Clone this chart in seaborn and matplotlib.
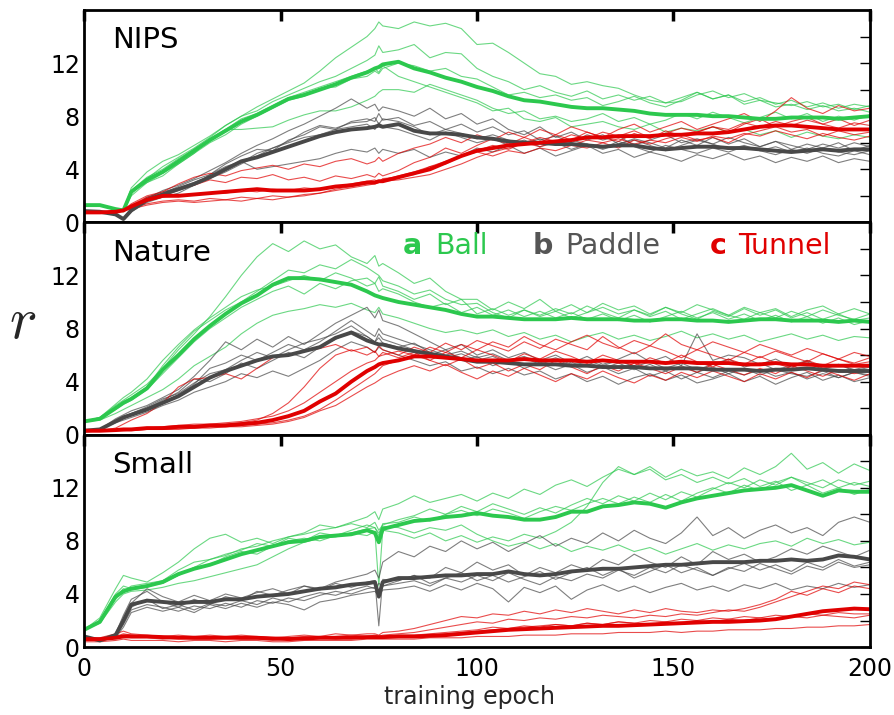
import matplotlib
matplotlib.use("Agg")
import matplotlib.pyplot as plt
from matplotlib.ticker import FixedLocator
import seaborn as sns
import pandas as pd

# ---------------------------------------------------------------- data
epochs = [0, 4, 8, 10, 12,
          16, 20, 24, 28, 32, 36, 40, 44, 48, 52, 56, 60, 64, 68, 72,
          74, 75, 76,
          80, 84, 88, 92, 96, 100, 104, 108, 112, 116, 120, 124, 128, 132, 136,
          140, 144, 148, 152, 156, 160, 164, 168, 172, 176, 180, 184, 188, 192, 196, 200]

panel_names = ["NIPS", "Nature", "Small"]
tasks = ["Ball", "Paddle", "Tunnel"]
task_letters = ["a", "b", "c"]

# ---- NIPS
nips_ball_mean = [1.3, 1.3, 1.0, 0.9, 2.3,
    3.2, 3.8, 4.6, 5.4, 6.2, 6.9, 7.6, 8.1, 8.7, 9.3, 9.6, 10.0, 10.4, 10.9, 11.3,
    11.6, 11.7, 11.9,
    12.1, 11.6, 11.3, 10.9, 10.6, 10.2, 9.9, 9.5, 9.2, 9.1, 8.9, 8.7, 8.6, 8.6, 8.5,
    8.4, 8.2, 8.1, 8.1, 8.1, 8.0, 8.0, 7.9, 7.8, 7.8, 7.9, 7.9, 7.9, 7.8, 7.9, 8.0]
nips_ball_runs = [
    [1.3, 1.3, 1.0, 0.9, 2.6,
     3.8, 4.6, 5.1, 5.8, 6.5, 7.3, 8.0, 8.7, 9.3, 9.9, 10.5, 11.4, 12.4, 13.2, 14.0,
     14.6, 15.1, 14.8,
     14.6, 15.1, 14.8, 15.0, 14.6, 13.4, 13.5, 12.8, 12.0, 11.2, 11.0, 10.4, 10.6, 10.3, 10.1,
     9.6, 9.2, 9.0, 9.1, 9.6, 9.9, 9.4, 9.7, 9.2, 9.0, 8.8, 9.1, 8.7, 8.9, 8.5, 8.8],
    [1.3, 1.3, 1.0, 0.9, 2.2,
     3.3, 4.2, 4.9, 5.6, 6.4, 7.3, 8.0, 8.4, 9.1, 9.6, 10.1, 10.6, 11.0, 11.6, 12.2,
     12.6, 13.3, 12.8,
     13.0, 13.4, 12.4, 12.8, 12.7, 11.6, 11.0, 10.6, 10.0, 10.3, 9.8, 9.5, 9.9, 9.3, 9.6,
     9.2, 9.5, 9.0, 9.4, 9.8, 9.3, 9.6, 9.1, 9.4, 8.9, 9.2, 8.7, 9.0, 8.6, 8.9, 8.7],
    [1.3, 1.3, 1.0, 0.9, 2.0,
     3.0, 3.7, 4.4, 5.2, 6.3, 7.0, 7.0, 7.1, 7.2, 7.7, 8.1, 8.4, 8.4, 8.7, 9.2,
     9.5, 9.8, 10.0,
     10.0, 9.8, 10.4, 10.0, 9.6, 9.2, 8.6, 8.2, 8.4, 7.8, 8.0, 7.6, 7.8, 8.2, 7.6,
     7.9, 7.4, 7.7, 8.2, 7.8, 8.3, 7.9, 7.5, 7.9, 8.3, 7.8, 8.2, 7.6, 8.0, 7.7, 8.1],
    [1.3, 1.3, 1.0, 0.9, 2.4,
     3.4, 4.0, 4.8, 5.5, 6.2, 7.0, 7.8, 8.2, 8.8, 9.4, 9.8, 10.2, 10.6, 11.0, 11.4,
     11.6, 11.3, 11.8,
     11.0, 10.6, 10.2, 9.8, 9.4, 9.0, 8.4, 8.6, 7.8, 7.6, 7.9, 7.2, 7.4, 7.6, 7.2,
     7.0, 7.4, 6.8, 7.1, 6.9, 7.2, 6.8, 7.0, 6.6, 6.9, 6.4, 6.8, 6.5, 6.3, 6.6, 6.4],
    [1.3, 1.3, 1.0, 0.9, 2.3,
     3.0, 3.5, 4.4, 5.2, 6.0, 6.6, 7.4, 8.0, 8.6, 9.2, 9.5, 10.1, 10.2, 10.8, 11.0,
     11.4, 11.2, 11.6,
     12.0, 11.8, 11.4, 11.6, 11.0, 10.8, 10.2, 9.6, 9.8, 9.4, 9.6, 9.2, 9.4, 8.8, 9.1,
     9.5, 9.0, 8.7, 9.2, 9.8, 9.3, 9.6, 8.9, 9.2, 8.7, 8.9, 8.5, 8.8, 8.4, 8.6, 8.3],
]
nips_paddle_mean = [0.85, 0.8, 0.6, 0.25, 0.9,
    1.7, 2.1, 2.5, 2.9, 3.4, 4.0, 4.6, 4.9, 5.3, 5.7, 6.1, 6.5, 6.8, 7.0, 7.1,
    7.2, 7.3, 7.2,
    7.4, 6.9, 6.7, 6.7, 6.6, 6.4, 6.3, 6.1, 6.0, 6.0, 5.9, 5.9, 5.8, 5.7, 5.8,
    5.8, 5.6, 5.5, 5.6, 5.7, 5.7, 5.6, 5.6, 5.5, 5.4, 5.3, 5.4, 5.5, 5.4, 5.5, 5.5]
nips_paddle_runs = [
    [0.85, 0.8, 0.6, 0.25, 0.9,
     1.8, 2.4, 2.8, 3.3, 3.9, 4.5, 5.2, 5.8, 6.3, 6.9, 7.4, 8.0, 8.6, 9.3, 8.6,
     8.9, 8.4, 8.7,
     8.4, 8.0, 8.6, 7.8, 8.2, 7.4, 7.8, 7.0, 6.6, 7.2, 6.4, 6.8, 6.2, 6.6, 5.9,
     6.3, 6.0, 5.6, 6.2, 5.8, 6.4, 5.9, 6.3, 5.7, 6.1, 5.5, 5.9, 5.6, 6.0, 5.4, 5.8],
    [0.85, 0.8, 0.6, 0.25, 1.0,
     1.6, 2.2, 2.7, 3.2, 3.6, 4.4, 5.0, 5.5, 5.4, 6.2, 6.6, 7.2, 7.0, 7.6, 7.8,
     7.6, 8.2, 7.7,
     7.9, 7.3, 7.6, 7.0, 7.4, 6.8, 7.2, 6.6, 6.9, 6.2, 6.5, 6.0, 6.6, 6.2, 6.5,
     5.8, 6.2, 6.6, 6.0, 6.3, 5.9, 6.4, 6.0, 5.7, 6.1, 5.8, 5.5, 5.9, 5.6, 6.0, 5.7],
    [0.85, 0.8, 0.6, 0.25, 0.8,
     1.5, 1.9, 2.2, 2.8, 3.6, 4.2, 4.6, 4.0, 4.2, 4.4, 4.6, 4.8, 5.2, 5.5, 5.3,
     5.6, 5.2, 5.5,
     5.2, 5.5, 4.9, 5.3, 5.0, 5.6, 5.3, 5.8, 5.2, 5.6, 5.0, 5.4, 5.8, 5.2, 5.5,
     4.9, 5.3, 5.0, 4.6, 5.1, 4.8, 5.2, 4.7, 5.0, 4.5, 4.9, 4.6, 5.0, 4.5, 4.8, 4.6],
    [0.85, 0.8, 0.6, 0.25, 0.9,
     1.7, 2.0, 2.4, 2.8, 3.3, 3.8, 4.4, 5.0, 5.6, 6.0, 6.4, 6.6, 7.0, 7.2, 7.4,
     7.0, 7.5, 7.2,
     7.0, 6.6, 6.2, 6.8, 6.4, 6.0, 6.3, 5.8, 6.2, 5.7, 6.0, 5.5, 5.9, 5.6, 6.1,
     5.7, 5.3, 5.8, 5.5, 5.2, 5.6, 5.3, 5.7, 5.4, 5.1, 5.5, 5.2, 5.6, 5.3, 5.1, 5.4],
    [0.85, 0.8, 0.6, 0.25, 1.1,
     1.9, 2.3, 2.6, 3.0, 3.5, 4.1, 4.5, 5.2, 5.6, 6.1, 6.8, 7.3, 7.1, 7.5, 7.6,
     7.9, 7.4, 7.8,
     7.6, 7.2, 6.6, 7.0, 6.7, 6.3, 6.6, 6.2, 5.9, 6.3, 5.8, 6.2, 5.9, 5.5, 5.9,
     6.2, 5.8, 5.4, 5.8, 6.2, 5.9, 5.5, 5.8, 5.4, 5.7, 5.3, 5.6, 5.2, 5.0, 5.4, 5.1],
]
nips_tunnel_mean = [0.75, 0.75, 0.8, 0.9, 1.2,
    1.7, 2.0, 2.0, 2.1, 2.2, 2.3, 2.4, 2.5, 2.4, 2.4, 2.4, 2.5, 2.7, 2.8, 3.0,
    3.0, 3.1, 3.1,
    3.4, 3.7, 4.0, 4.5, 5.0, 5.4, 5.6, 5.8, 5.9, 6.0, 6.1, 6.2, 6.4, 6.4, 6.5,
    6.5, 6.5, 6.6, 6.6, 6.7, 6.7, 6.8, 7.0, 7.2, 7.3, 7.3, 7.2, 7.1, 7.0, 7.0, 7.0]
nips_tunnel_runs = [
    [0.75, 0.75, 0.8, 0.9, 1.4,
     2.0, 2.3, 2.9, 3.4, 3.7, 3.5, 3.9, 4.1, 4.3, 4.0, 4.4, 4.2, 4.6, 4.8, 4.4,
     4.6, 4.9, 4.6,
     5.2, 5.6, 5.9, 6.4, 6.0, 6.6, 6.2, 6.8, 6.4, 7.0, 6.6, 7.2, 6.8, 6.4, 7.0,
     7.4, 6.8, 7.2, 7.6, 7.0, 7.4, 7.8, 8.2, 7.6, 8.4, 9.4, 8.6, 8.2, 8.8, 8.4, 8.6],
    [0.75, 0.75, 0.8, 0.9, 1.3,
     1.9, 2.2, 2.5, 2.8, 3.2, 3.0, 3.4, 3.3, 3.6, 3.2, 3.4, 3.1, 3.5, 3.3, 3.6,
     3.4, 3.7, 3.5,
     3.9, 4.5, 4.9, 5.6, 5.2, 5.8, 6.3, 5.9, 6.4, 6.0, 6.6, 6.2, 6.8, 6.4, 6.1,
     6.7, 6.3, 6.9, 6.5, 6.8, 7.2, 6.8, 7.4, 7.8, 7.2, 7.6, 7.9, 7.4, 7.8, 7.3, 7.7],
    [0.75, 0.75, 0.8, 0.9, 1.1,
     1.4, 1.6, 1.7, 1.6, 1.8, 1.7, 1.9, 1.8, 2.0, 1.9, 2.1, 2.2, 2.4, 2.6, 2.8,
     2.9, 3.0, 3.1,
     3.2, 3.4, 3.6, 4.0, 4.4, 4.9, 5.3, 5.6, 6.0, 5.7, 6.1, 5.8, 6.2, 6.0, 5.6,
     6.2, 5.9, 6.3, 6.6, 6.2, 6.4, 6.0, 6.6, 6.9, 7.2, 6.8, 7.0, 6.5, 6.9, 6.6, 6.8],
    [0.75, 0.75, 0.8, 0.9, 1.0,
     1.3, 1.5, 1.6, 1.5, 1.6, 1.7, 1.6, 1.8, 1.7, 1.9, 2.0, 2.2, 2.5, 2.7, 2.9,
     3.0, 3.1, 3.2,
     3.5, 3.8, 4.2, 4.6, 5.0, 5.3, 5.0, 5.4, 5.2, 5.6, 5.4, 5.8, 5.6, 6.0, 6.3,
     5.9, 6.2, 6.0, 6.4, 6.1, 6.5, 6.3, 6.7, 6.5, 6.9, 6.6, 6.3, 6.7, 6.4, 6.2, 6.5],
    [0.75, 0.75, 0.8, 0.9, 1.2,
     1.6, 1.9, 2.0, 2.1, 2.2, 2.2, 2.4, 2.3, 2.5, 2.4, 2.6, 2.5, 2.7, 2.9, 3.1,
     3.2, 3.0, 3.3,
     3.4, 3.6, 4.2, 4.4, 5.0, 5.4, 5.8, 5.5, 6.0, 6.4, 6.1, 6.6, 6.3, 6.8, 6.5,
     6.9, 6.4, 6.7, 7.1, 6.8, 7.2, 7.0, 7.5, 7.2, 7.6, 7.3, 7.7, 7.4, 7.1, 7.5, 7.3],
]

# ---- Nature
nature_ball_mean = [1.0, 1.2, 2.0, 2.4, 2.7,
    3.5, 4.9, 6.0, 7.2, 8.2, 9.1, 9.9, 10.5, 11.3, 11.8, 11.8, 11.7, 11.5, 11.3, 10.8,
    10.5, 10.4, 10.3,
    10.0, 9.8, 9.6, 9.4, 9.1, 8.9, 8.9, 8.8, 8.7, 8.7, 8.7, 8.8, 8.7, 8.7, 8.7,
    8.6, 8.6, 8.7, 8.7, 8.6, 8.6, 8.5, 8.6, 8.7, 8.7, 8.6, 8.6, 8.6, 8.5, 8.6, 8.5]
nature_ball_runs = [
    [1.0, 1.3, 2.2, 2.6, 3.0,
     3.8, 5.0, 6.4, 7.6, 8.9, 10.4, 12.0, 13.4, 14.4, 13.8, 14.6, 14.0, 14.3, 13.4, 12.9,
     13.5, 12.7, 12.9,
     12.2, 11.4, 11.8, 10.8, 10.2, 10.2, 9.4, 10.0, 9.5, 10.2, 9.3, 9.8, 9.2, 9.9, 9.4,
     9.7, 9.1, 9.6, 9.2, 9.8, 9.4, 9.0, 9.6, 9.2, 9.5, 8.9, 9.4, 9.7, 9.1, 9.5, 9.1],
    [1.0, 1.2, 2.0, 2.4, 2.8,
     3.6, 5.2, 6.6, 7.8, 8.6, 9.4, 10.0, 10.8, 11.6, 12.4, 12.2, 12.8, 12.5, 13.2, 12.6,
     12.2, 12.0, 11.6,
     11.2, 10.6, 10.9, 10.2, 9.8, 9.9, 9.2, 8.8, 9.4, 9.0, 9.5, 9.1, 9.7, 9.2, 8.8,
     9.4, 9.0, 9.6, 9.1, 8.7, 9.3, 8.9, 9.5, 9.0, 9.4, 8.8, 9.2, 8.7, 9.1, 8.6, 8.8],
    [1.0, 1.1, 1.6, 1.9, 2.2,
     2.8, 3.4, 4.2, 5.2, 5.9, 6.6, 7.6, 8.4, 9.0, 9.3, 9.5, 9.8, 9.6, 9.9, 9.4,
     9.2, 9.6, 9.1,
     8.8, 8.4, 8.0, 7.7, 7.9, 7.6, 7.9, 7.4, 7.7, 7.2, 7.5, 7.0, 7.4, 7.7, 7.2,
     7.5, 7.1, 7.4, 7.8, 7.3, 7.6, 7.2, 7.5, 7.0, 7.3, 7.6, 7.2, 7.5, 7.1, 7.4, 7.3],
    [1.0, 1.3, 2.3, 2.8, 3.2,
     4.2, 5.6, 6.8, 7.9, 8.8, 9.6, 10.4, 10.9, 11.2, 11.6, 12.0, 11.6, 12.2, 11.8, 11.2,
     11.4, 10.8, 11.0,
     10.6, 10.0, 9.6, 9.9, 9.2, 9.6, 9.0, 9.4, 8.9, 9.3, 8.8, 9.2, 8.7, 9.1, 8.6,
     9.0, 8.5, 8.9, 9.3, 8.8, 9.2, 8.7, 9.1, 8.6, 9.0, 8.5, 8.9, 8.4, 8.8, 8.3, 8.6],
    [1.0, 1.2, 1.9, 2.3, 2.6,
     3.4, 4.6, 5.8, 7.0, 8.0, 8.8, 9.6, 10.2, 10.8, 11.2, 10.6, 11.4, 11.0, 11.6, 11.8,
     11.4, 11.9, 11.2,
     10.8, 10.2, 10.6, 9.8, 10.2, 9.1, 9.5, 9.0, 9.4, 8.9, 9.3, 8.8, 9.2, 9.6, 9.1,
     9.4, 8.9, 9.3, 8.7, 9.1, 9.5, 9.0, 8.7, 9.2, 8.8, 9.3, 8.9, 9.4, 9.0, 8.7, 9.1],
]
nature_paddle_mean = [0.3, 0.4, 1.0, 1.3, 1.5,
    1.9, 2.4, 2.9, 3.6, 4.3, 4.8, 5.2, 5.6, 5.9, 6.0, 6.3, 6.6, 7.3, 7.7, 7.1,
    6.9, 6.8, 6.8,
    6.5, 6.3, 6.1, 5.9, 5.7, 5.5, 5.5, 5.4, 5.3, 5.3, 5.3, 5.2, 5.2, 5.1, 5.1,
    5.1, 5.0, 5.0, 5.0, 5.0, 4.9, 4.9, 4.9, 4.8, 4.9, 4.9, 5.0, 4.9, 4.8, 4.8, 4.8]
nature_paddle_runs = [
    [0.3, 0.4, 1.2, 1.5, 1.8,
     2.2, 2.8, 3.4, 4.4, 5.6, 7.0, 6.4, 7.2, 6.6, 7.4, 6.8, 7.6, 8.4, 9.0, 9.6,
     8.8, 9.4, 8.6,
     8.2, 7.6, 7.0, 6.4, 6.8, 6.0, 6.4, 5.8, 6.2, 5.6, 6.0, 5.4, 5.9, 5.3, 5.7,
     6.2, 5.5, 5.9, 5.2, 7.6, 5.6, 6.0, 5.8, 5.3, 5.7, 5.1, 5.5, 4.9, 5.3, 4.8, 5.1],
    [0.3, 0.4, 1.0, 1.2, 1.5,
     2.0, 2.6, 3.2, 4.2, 4.0, 4.6, 5.4, 5.0, 5.6, 6.2, 5.8, 6.6, 7.2, 7.8, 7.4,
     7.0, 7.6, 7.2,
     6.8, 6.4, 6.0, 6.4, 5.6, 5.9, 5.2, 5.6, 5.0, 5.4, 4.9, 5.3, 4.7, 5.1, 4.6,
     5.0, 4.4, 4.8, 4.2, 4.7, 4.3, 4.8, 4.5, 4.9, 4.4, 4.7, 4.2, 4.6, 4.3, 4.7, 4.4],
    [0.3, 0.4, 0.9, 1.1, 1.3,
     1.7, 2.2, 2.6, 3.2, 3.6, 4.0, 4.6, 4.3, 4.8, 4.4, 5.0, 5.6, 6.4, 7.0, 6.6,
     6.2, 6.6, 6.4,
     6.0, 5.6, 5.2, 5.5, 4.8, 5.1, 4.6, 5.0, 4.5, 4.8, 4.2, 4.6, 4.0, 4.4, 3.8,
     4.3, 4.6, 4.1, 4.5, 3.9, 4.2, 4.6, 4.0, 4.4, 3.8, 4.3, 4.7, 4.1, 4.5, 4.0, 4.3],
    [0.3, 0.4, 1.1, 1.4, 1.6,
     2.0, 2.5, 3.0, 3.8, 5.0, 5.4, 6.0, 5.6, 6.2, 6.8, 6.4, 7.0, 7.8, 8.6, 7.8,
     7.4, 8.0, 7.6,
     7.2, 6.8, 6.4, 6.0, 6.3, 5.8, 6.1, 5.6, 5.9, 5.4, 5.8, 5.3, 5.6, 5.2, 5.6,
     5.1, 5.5, 5.0, 5.4, 4.9, 5.3, 5.7, 5.1, 5.4, 4.9, 5.2, 5.6, 5.0, 5.3, 4.9, 5.2],
    [0.3, 0.4, 1.0, 1.3, 1.6,
     2.1, 2.7, 3.1, 3.9, 4.6, 4.9, 5.6, 6.2, 5.8, 6.4, 6.9, 7.2, 7.6, 8.2, 7.4,
     7.0, 7.3, 6.9,
     6.6, 6.9, 6.2, 5.8, 6.1, 5.6, 5.9, 5.4, 5.8, 5.3, 5.7, 5.2, 5.5, 5.0, 5.4,
     4.9, 5.3, 4.8, 5.2, 4.7, 5.1, 4.6, 5.0, 4.5, 4.9, 4.6, 4.4, 4.8, 4.3, 4.7, 4.5],
]
nature_tunnel_mean = [0.3, 0.3, 0.35, 0.4, 0.4,
    0.5, 0.5, 0.6, 0.6, 0.7, 0.7, 0.8, 0.9, 1.1, 1.4, 1.8, 2.5, 3.1, 4.0, 4.8,
    5.1, 5.3, 5.4,
    5.6, 5.9, 5.9, 5.8, 5.7, 5.6, 5.6, 5.6, 5.7, 5.6, 5.6, 5.6, 5.5, 5.6, 5.5,
    5.5, 5.5, 5.4, 5.5, 5.4, 5.4, 5.4, 5.3, 5.3, 5.4, 5.3, 5.3, 5.2, 5.2, 5.2, 5.2]
nature_tunnel_runs = [
    [0.3, 0.3, 0.5, 0.8, 1.1,
     1.6, 2.4, 3.6, 4.2, 4.3, 4.6, 4.2, 5.0, 5.8, 6.0, 6.3, 6.5, 6.8, 6.3, 6.6,
     6.2, 6.7, 6.4,
     6.0, 6.6, 6.2, 6.9, 6.4, 7.1, 6.7, 6.3, 7.0, 6.5, 7.2, 6.8, 6.4, 7.4, 6.6,
     6.1, 6.7, 6.3, 5.8, 6.4, 6.0, 5.6, 6.2, 5.8, 6.3, 5.9, 5.5, 6.1, 5.7, 5.4, 5.8],
    [0.3, 0.3, 0.3, 0.35, 0.4,
     0.5, 0.5, 0.6, 0.6, 0.7, 0.8, 0.9, 1.1, 1.6, 2.4, 3.6, 5.0, 6.0, 6.4, 6.0,
     6.3, 5.9, 6.2,
     5.8, 6.2, 5.6, 5.2, 5.7, 5.0, 5.4, 4.8, 5.3, 4.9, 5.6, 5.1, 4.6, 5.2, 4.8,
     5.4, 5.0, 4.6, 5.1, 4.7, 5.3, 4.9, 4.5, 5.0, 4.6, 5.2, 4.8, 4.4, 4.9, 4.6, 4.9],
    [0.3, 0.3, 0.3, 0.3, 0.35,
     0.4, 0.4, 0.5, 0.5, 0.6, 0.6, 0.7, 0.8, 0.9, 1.1, 1.4, 1.9, 2.6, 3.4, 4.2,
     4.6, 4.9, 5.2,
     5.6, 6.0, 5.6, 6.2, 5.8, 6.4, 6.0, 5.5, 6.1, 5.7, 6.3, 5.9, 5.4, 6.0, 5.6,
     5.2, 5.8, 5.4, 6.0, 5.5, 5.1, 5.7, 5.3, 5.9, 5.4, 5.0, 5.6, 5.2, 5.7, 5.3, 5.5],
    [0.3, 0.3, 0.3, 0.3, 0.3,
     0.4, 0.4, 0.4, 0.5, 0.5, 0.6, 0.6, 0.7, 0.8, 1.0, 1.3, 1.8, 2.2, 2.9, 3.6,
     3.9, 4.1, 4.3,
     4.8, 5.2, 4.8, 5.3, 4.7, 4.2, 4.8, 4.4, 5.0, 4.5, 4.0, 4.6, 4.2, 4.8, 4.3,
     3.9, 4.5, 4.1, 4.7, 4.3, 4.8, 4.4, 4.0, 4.6, 4.2, 4.7, 4.3, 4.9, 4.5, 4.1, 4.6],
    [0.3, 0.3, 0.35, 0.4, 0.45,
     0.5, 0.6, 0.7, 0.8, 0.8, 0.9, 1.0, 1.2, 1.4, 1.8, 2.4, 3.2, 4.0, 4.8, 5.4,
     5.6, 5.9, 6.0,
     6.3, 6.0, 6.6, 6.2, 6.8, 6.4, 7.0, 6.6, 7.4, 6.8, 6.4, 7.0, 7.5, 6.9, 6.5,
     7.1, 6.7, 7.6, 6.8, 6.4, 7.0, 6.6, 6.2, 6.8, 6.4, 6.0, 6.5, 6.1, 5.7, 6.2, 5.9],
]

# ---- Small
small_ball_mean = [1.3, 1.9, 3.8, 4.2, 4.4,
    4.6, 4.9, 5.5, 5.9, 6.2, 6.6, 7.0, 7.3, 7.6, 7.9, 8.0, 8.3, 8.4, 8.5, 8.8,
    8.6, 7.9, 8.9,
    9.2, 9.5, 9.6, 9.8, 9.9, 10.1, 9.9, 9.8, 9.6, 9.6, 9.8, 10.2, 10.2, 10.6, 10.7,
    10.9, 10.8, 10.5, 10.9, 11.2, 11.4, 11.6, 11.8, 11.9, 12.0, 12.2, 11.8, 11.4, 11.8, 11.7, 11.7]
small_ball_runs = [
    [1.3, 2.2, 4.4, 5.4, 5.2,
     4.9, 5.6, 6.4, 7.4, 8.2, 8.5, 7.9, 8.2, 7.8, 8.3, 8.6, 9.2, 9.0, 9.4, 9.8,
     10.2, 9.6, 10.4,
     10.8, 11.4, 10.9, 11.2, 11.5, 11.0, 11.6, 11.2, 11.9, 11.5, 12.2, 12.6, 12.1, 12.8, 13.4,
     13.0, 13.6, 12.8, 13.4, 12.9, 13.2, 12.7, 13.5, 13.0, 13.6, 14.6, 13.4, 13.9, 13.1, 13.8, 13.3],
    [1.3, 2.0, 3.6, 4.2, 4.6,
     4.8, 5.0, 5.4, 6.0, 6.6, 6.9, 7.4, 7.6, 8.0, 8.3, 8.5, 8.8, 9.0, 9.3, 9.0,
     9.4, 8.8, 9.2,
     9.6, 9.9, 10.4, 10.0, 10.6, 10.2, 10.8, 10.4, 10.0, 10.5, 10.1, 10.7, 11.2, 10.8, 11.4,
     11.0, 11.6, 11.1, 11.7, 11.3, 11.9, 12.4, 12.0, 12.6, 12.2, 12.8, 12.4, 12.0, 12.6, 12.2, 12.5],
    [1.3, 1.8, 3.4, 4.0, 4.2,
     4.3, 4.5, 4.8, 5.0, 5.3, 5.6, 5.9, 6.2, 6.8, 7.4, 7.9, 8.2, 8.3, 8.6, 8.4,
     8.7, 4.6, 8.8,
     8.6, 8.2, 8.6, 8.0, 8.4, 7.9, 8.3, 8.0, 8.5, 8.2, 8.7, 9.4, 10.6, 12.4, 13.6,
     13.0, 13.4, 12.6, 13.0, 12.4, 12.8, 12.3, 12.7, 12.1, 12.5, 11.8, 12.2, 11.6, 12.0, 11.5, 11.9],
    [1.3, 1.9, 3.8, 4.4, 4.3,
     4.5, 5.0, 5.8, 6.4, 6.6, 7.0, 7.3, 7.8, 7.6, 8.0, 8.2, 8.0, 8.4, 8.6, 8.9,
     9.0, 8.6, 9.1,
     9.0, 8.6, 9.0, 8.8, 9.2, 8.5, 8.0, 7.6, 7.9, 7.4, 7.8, 7.2, 7.6, 7.3, 7.7,
     7.2, 7.5, 7.0, 7.4, 7.8, 7.3, 7.7, 7.4, 7.8, 8.0, 7.6, 8.2, 7.8, 8.1, 7.7, 7.9],
    [1.3, 2.0, 4.0, 4.6, 4.4,
     4.6, 4.8, 5.4, 6.0, 6.2, 6.8, 7.2, 7.0, 7.6, 8.2, 8.0, 8.6, 8.4, 8.8, 9.2,
     9.0, 8.4, 9.3,
     9.4, 9.8, 9.5, 10.0, 10.3, 9.9, 10.4, 10.1, 9.7, 10.2, 10.6, 10.3, 10.8, 11.2, 10.8,
     11.3, 10.9, 11.5, 11.0, 11.6, 12.0, 11.6, 12.2, 11.8, 12.4, 12.8, 12.2, 12.6, 12.0, 12.4, 12.1],
]
small_paddle_mean = [0.8, 0.5, 0.9, 2.0, 3.2,
    3.5, 3.4, 3.3, 3.4, 3.4, 3.6, 3.6, 3.8, 3.9, 4.0, 4.2, 4.4, 4.5, 4.7, 4.8,
    4.9, 3.8, 4.9,
    5.2, 5.2, 5.3, 5.4, 5.4, 5.5, 5.5, 5.7, 5.5, 5.4, 5.5, 5.7, 5.8, 5.9, 5.9,
    6.0, 6.1, 6.2, 6.2, 6.3, 6.4, 6.4, 6.4, 6.5, 6.5, 6.6, 6.5, 6.6, 6.9, 6.8, 6.6]
small_paddle_runs = [
    [0.8, 0.5, 1.0, 2.4, 3.6,
     4.2, 3.4, 3.0, 3.6, 3.2, 3.8, 3.5, 4.2, 3.9, 4.3, 4.6, 4.4, 4.9, 5.2, 5.5,
     5.8, 5.2, 6.4,
     7.2, 6.8, 7.6, 7.2, 8.0, 7.4, 7.9, 7.2, 7.8, 8.4, 7.6, 8.2, 7.8, 8.6, 8.0,
     8.8, 8.2, 7.8, 8.6, 9.8, 8.4, 9.0, 8.2, 8.8, 9.2, 8.6, 9.0, 8.4, 9.4, 9.8, 9.4],
    [0.8, 0.5, 0.8, 1.8, 3.0,
     3.6, 2.9, 3.2, 2.8, 3.3, 3.1, 3.5, 3.2, 3.7, 3.4, 3.8, 4.1, 3.9, 4.3, 4.6,
     4.4, 4.8, 4.6,
     5.0, 5.4, 5.2, 6.0, 5.6, 6.4, 5.8, 6.2, 5.4, 6.0, 5.6, 6.2, 5.8, 6.6, 6.2,
     7.0, 6.4, 6.0, 6.8, 6.2, 7.2, 6.6, 7.0, 6.4, 6.8, 7.4, 7.0, 7.6, 7.2, 6.8, 7.3],
    [0.8, 0.5, 0.9, 2.0, 3.3,
     4.4, 3.8, 3.4, 3.9, 3.5, 4.0, 3.7, 4.1, 4.4, 4.0, 4.6, 4.3, 4.8, 4.5, 4.9,
     5.0, 1.6, 5.1,
     5.0, 5.4, 4.8, 5.2, 5.6, 5.0, 5.4, 4.9, 5.3, 5.7, 5.1, 5.6, 6.0, 5.4, 5.9,
     5.2, 5.7, 6.2, 5.6, 6.0, 5.4, 5.9, 6.3, 5.8, 6.2, 5.7, 6.4, 6.0, 6.6, 6.1, 6.4],
    [0.8, 0.5, 0.8, 1.7, 2.8,
     3.2, 3.0, 2.7, 3.1, 2.9, 3.3, 3.0, 3.5, 3.3, 3.7, 3.5, 3.9, 4.2, 4.0, 4.4,
     4.5, 4.2, 4.6,
     4.8, 5.0, 4.6, 5.2, 4.9, 5.4, 5.0, 5.6, 5.1, 4.7, 5.3, 5.0, 5.5, 5.2, 5.8,
     5.4, 6.0, 5.6, 6.2, 5.8, 5.4, 6.0, 5.7, 6.3, 5.9, 5.5, 6.1, 5.8, 6.4, 6.0, 6.2],
    [0.8, 0.5, 0.7, 1.5, 2.6,
     3.0, 2.7, 3.0, 2.6, 3.2, 2.9, 3.3, 3.0, 3.4, 3.2, 2.8, 3.4, 3.6, 3.9, 4.1,
     4.2, 3.9, 4.3,
     4.4, 4.6, 4.2, 4.7, 4.3, 4.8, 4.4, 3.4, 4.5, 4.1, 4.6, 3.6, 4.3, 4.7, 4.2,
     4.6, 4.1, 4.5, 4.8, 4.3, 4.6, 4.2, 4.7, 4.4, 4.8, 4.3, 4.6, 4.4, 4.8, 4.5, 4.7],
]
small_tunnel_mean = [0.6, 0.6, 0.7, 0.8, 0.8,
    0.8, 0.75, 0.7, 0.7, 0.7, 0.7, 0.7, 0.7, 0.65, 0.6, 0.65, 0.7, 0.7, 0.7, 0.75,
    0.75, 0.75, 0.75,
    0.8, 0.8, 0.85, 0.9, 1.0, 1.1, 1.2, 1.3, 1.35, 1.4, 1.45, 1.5, 1.55, 1.6, 1.6,
    1.65, 1.7, 1.75, 1.8, 1.85, 1.9, 1.9, 1.95, 2.0, 2.1, 2.3, 2.5, 2.7, 2.8, 2.9, 2.85]
small_tunnel_runs = [
    [0.6, 0.7, 1.0, 1.2, 1.0,
     0.9, 0.8, 0.9, 0.8, 0.9, 0.8, 0.9, 0.8, 0.7, 0.8, 0.9, 0.8, 1.0, 0.9, 1.0,
     1.0, 0.9, 1.1,
     1.2, 1.4, 1.7, 2.0, 2.3, 2.2, 2.5, 2.4, 2.7, 2.5, 2.8, 2.6, 2.9, 2.7, 2.5,
     2.8, 2.6, 2.9, 2.7, 2.6, 2.8, 2.7, 2.9, 3.2, 3.6, 4.2, 3.9, 4.4, 4.1, 4.6, 4.4],
    [0.6, 0.6, 0.8, 0.9, 0.9,
     0.8, 0.7, 0.8, 0.7, 0.8, 0.7, 0.8, 0.7, 0.6, 0.7, 0.8, 0.7, 0.8, 0.9, 0.8,
     0.9, 0.8, 0.9,
     1.0, 1.1, 1.3, 1.5, 1.7, 1.9, 1.8, 2.1, 2.0, 2.2, 2.1, 2.3, 2.2, 2.4, 2.3,
     2.2, 2.4, 2.3, 2.5, 2.4, 2.6, 2.8, 2.7, 3.0, 3.4, 3.8, 4.2, 4.6, 4.4, 4.9, 4.7],
    [0.5, 0.5, 0.7, 0.8, 0.7,
     0.7, 0.6, 0.7, 0.6, 0.6, 0.7, 0.6, 0.6, 0.5, 0.6, 0.6, 0.7, 0.6, 0.7, 0.7,
     0.7, 0.7, 0.7,
     0.8, 0.8, 0.9, 1.0, 1.1, 1.2, 1.3, 1.4, 1.5, 1.6, 1.7, 1.6, 1.8, 1.7, 1.9,
     1.8, 2.0, 1.9, 2.1, 2.0, 2.2, 2.1, 2.3, 2.2, 2.4, 2.3, 2.5, 2.4, 2.6, 2.5, 2.5],
    [0.4, 0.4, 0.5, 0.6, 0.5,
     0.5, 0.5, 0.4, 0.5, 0.5, 0.4, 0.5, 0.5, 0.4, 0.4, 0.5, 0.5, 0.5, 0.5, 0.6,
     0.6, 0.6, 0.6,
     0.6, 0.6, 0.7, 0.7, 0.7, 0.8, 0.8, 0.8, 0.9, 0.9, 0.9, 1.0, 1.0, 1.0, 1.1,
     1.1, 1.1, 1.2, 1.1, 1.2, 1.2, 1.3, 1.3, 1.3, 1.4, 1.4, 1.5, 1.5, 1.6, 1.6, 1.7],
    [0.6, 0.6, 0.8, 1.0, 0.9,
     0.8, 0.8, 0.7, 0.8, 0.7, 0.8, 0.7, 0.7, 0.6, 0.7, 0.7, 0.8, 0.7, 0.8, 0.8,
     0.8, 0.8, 0.8,
     0.9, 0.9, 1.0, 1.1, 1.2, 1.3, 1.5, 1.4, 1.6, 1.5, 1.7, 1.6, 1.8, 1.7, 1.9,
     1.8, 1.7, 1.9, 1.8, 2.0, 1.9, 2.1, 2.0, 2.2, 2.1, 2.3, 2.2, 2.4, 2.3, 2.2, 2.4],
]

# ---------------------------------------------------------------- style
task_colors = {"Ball": "#2cc84e", "Paddle": "#484848", "Tunnel": "#e00000"}
label_colors = {"Ball": "#2cc84e", "Paddle": "#555555", "Tunnel": "#e00000"}

sns.set_style("white")
plt.rcParams["font.family"] = ["DejaVu Sans"]
plt.rcParams["mathtext.fontset"] = "cm"

panels = {
    "NIPS": (nips_ball_mean, nips_ball_runs, nips_paddle_mean, nips_paddle_runs,
             nips_tunnel_mean, nips_tunnel_runs),
    "Nature": (nature_ball_mean, nature_ball_runs, nature_paddle_mean, nature_paddle_runs,
               nature_tunnel_mean, nature_tunnel_runs),
    "Small": (small_ball_mean, small_ball_runs, small_paddle_mean, small_paddle_runs,
              small_tunnel_mean, small_tunnel_runs),
}


def long_tables(series):
    runs_rows, mean_rows = [], []
    for k, task in enumerate(tasks):
        mean, runs = series[2 * k], series[2 * k + 1]
        assert len(mean) == len(epochs)
        for e, v in zip(epochs, mean):
            mean_rows.append({"epoch": e, "r": v, "task": task})
        for j, run in enumerate(runs):
            assert len(run) == len(epochs), (task, j, len(run))
            for e, v in zip(epochs, run):
                runs_rows.append({"epoch": e, "r": v, "task": task, "run": f"{task}{j}"})
    return pd.DataFrame(runs_rows), pd.DataFrame(mean_rows)


fig, axes = plt.subplots(3, 1, figsize=(8.95, 7.15), dpi=100, sharex=True)
fig.subplots_adjust(left=0.094, right=0.972, top=0.986, bottom=0.095, hspace=0)

for ax, name in zip(axes, panel_names):
    runs_df, mean_df = long_tables(panels[name])
    sns.lineplot(data=runs_df, x="epoch", y="r", hue="task", units="run",
                 estimator=None, hue_order=tasks, palette=task_colors,
                 lw=0.8, alpha=0.7, legend=False, ax=ax)
    sns.lineplot(data=mean_df, x="epoch", y="r", hue="task", hue_order=tasks,
                 palette=task_colors, lw=2.8, legend=False, ax=ax)

    ax.set_xlim(0, 200)
    ax.set_ylim(0, 16)
    ax.set_xlabel("")
    ax.set_ylabel("")
    ax.xaxis.set_major_locator(FixedLocator([0, 50, 100, 150, 200]))
    ax.yaxis.set_major_locator(FixedLocator([0, 4, 8, 12]))
    ax.yaxis.set_minor_locator(FixedLocator([2, 6, 10, 14]))
    ax.tick_params(axis="both", which="both", direction="in",
                   top=True, right=True, labelsize=17, colors="black")
    ax.tick_params(axis="x", which="major", length=8, width=2.5, pad=7)
    ax.tick_params(axis="y", which="both", length=7, width=1, pad=3)
    for sp in ax.spines.values():
        sp.set_visible(True)
        sp.set_linewidth(2)
        sp.set_color("black")
    ax.text(0.036, 0.82, name, transform=ax.transAxes, fontsize=21,
            ha="left", va="baseline", color="black")

# task legend written inside the middle panel
leg_ax = axes[1]
letter_x = [0.406, 0.571, 0.796]
word_x = [0.4466, 0.612, 0.832]
for task, letter, lx, wx in zip(tasks, task_letters, letter_x, word_x):
    leg_ax.text(lx, 0.85, letter, transform=leg_ax.transAxes, fontsize=20.5,
                fontweight="bold", color=label_colors[task], va="baseline")
    leg_ax.text(wx, 0.85, task, transform=leg_ax.transAxes, fontsize=20.5,
                color=label_colors[task], va="baseline")

fig.text(0.025, 0.55, r"$r$", fontsize=42, ha="center", va="center")
fig.text(0.525, 0.025, "training epoch", fontsize=17, ha="center", va="center")

fig.savefig("out.png", dpi=100)
